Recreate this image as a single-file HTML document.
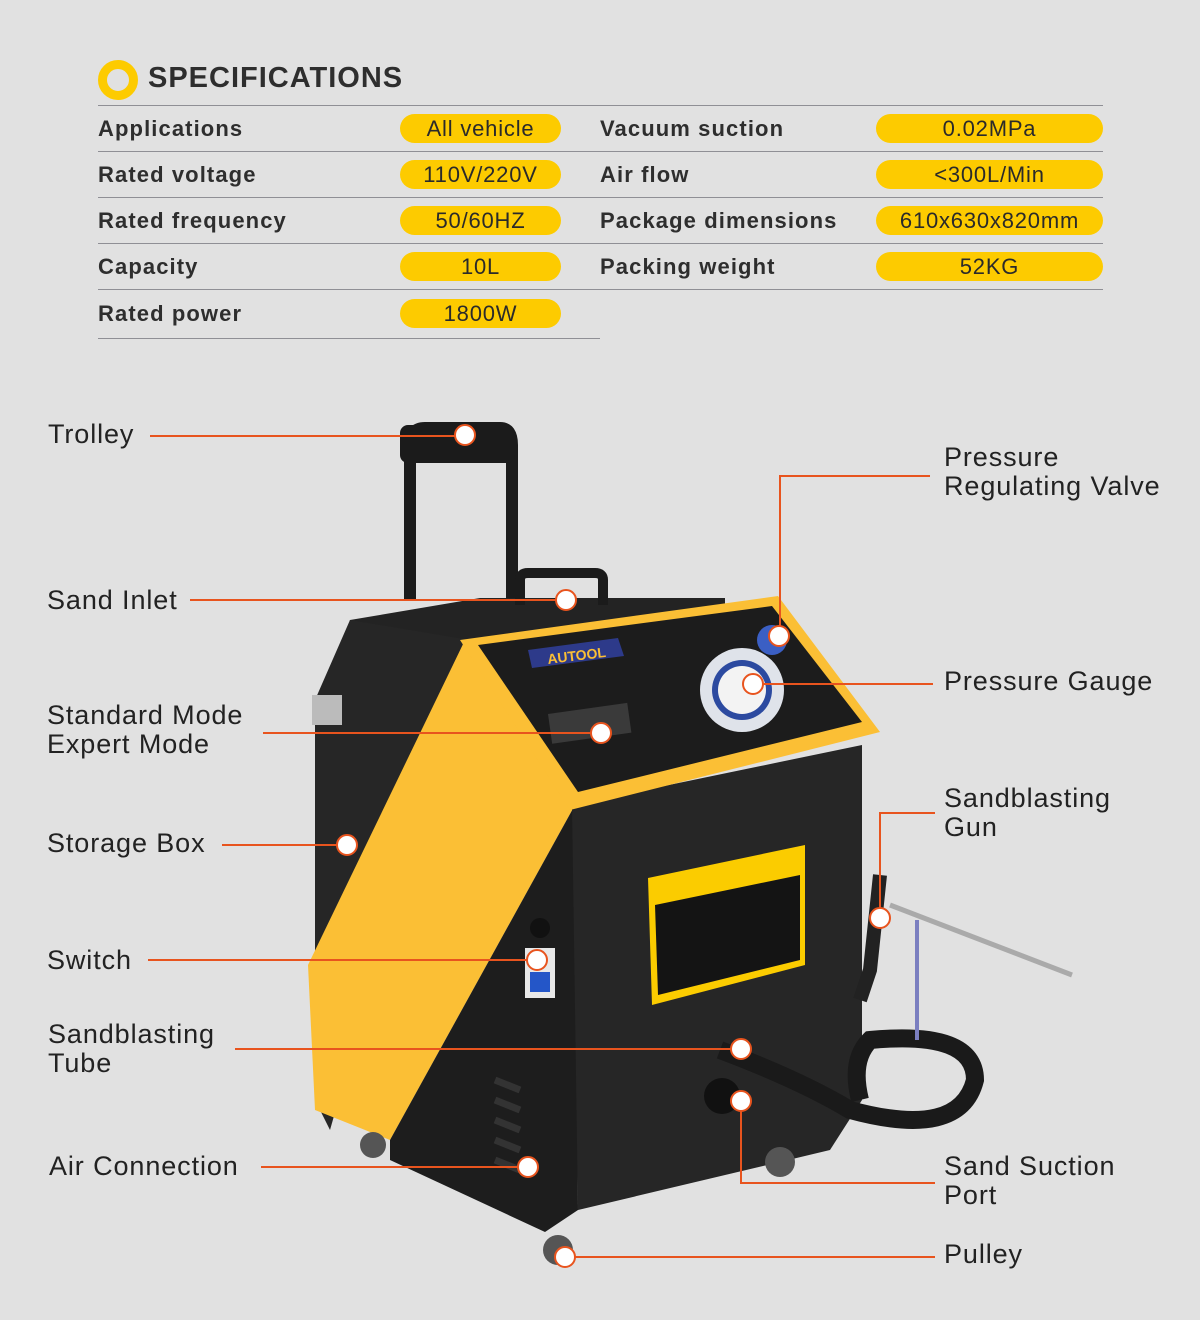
<!DOCTYPE html>
<html><head><meta charset="utf-8"><style>
*{margin:0;padding:0;box-sizing:border-box}
body{width:1200px;height:1320px;background:#e1e1e1;position:relative;overflow:hidden;font-family:"Liberation Sans",sans-serif;color:#2a2a2a}
.a{position:absolute}
.h{left:148px;top:62px;font-size:29px;font-weight:bold;letter-spacing:1px;color:#2e2e2e}
.ln{position:absolute;height:1px;background:#8f8f95}
.lb{position:absolute;font-size:22px;font-weight:bold;color:#2e2e2e;line-height:28px;letter-spacing:1.1px}
.pl{position:absolute;height:29px;background:#fdcb00;border-radius:15px;font-size:22px;text-align:center;line-height:29px;color:#2a2a2a;letter-spacing:0.8px}
.t{position:absolute;font-size:27px;line-height:29px;color:#222;letter-spacing:0.9px}
</style></head><body>
<div class="a" style="left:98px;top:60px;width:40px;height:40px;border-radius:50%;border:9px solid #fdcb00"></div>
<div class="a h">SPECIFICATIONS</div>
<div class="ln" style="left:98px;top:105px;width:1005px"></div>
<div class="ln" style="left:98px;top:151px;width:1005px"></div>
<div class="ln" style="left:98px;top:197px;width:1005px"></div>
<div class="ln" style="left:98px;top:243px;width:1005px"></div>
<div class="ln" style="left:98px;top:289px;width:1005px"></div>
<div class="ln" style="left:98px;top:338px;width:502px"></div>

<div class="lb" style="left:98px;top:115px">Applications</div>
<div class="lb" style="left:98px;top:161px">Rated voltage</div>
<div class="lb" style="left:98px;top:207px">Rated frequency</div>
<div class="lb" style="left:98px;top:253px">Capacity</div>
<div class="lb" style="left:98px;top:300px">Rated power</div>
<div class="pl" style="left:400px;top:114px;width:161px">All vehicle</div>
<div class="pl" style="left:400px;top:160px;width:161px">110V/220V</div>
<div class="pl" style="left:400px;top:206px;width:161px">50/60HZ</div>
<div class="pl" style="left:400px;top:252px;width:161px">10L</div>
<div class="pl" style="left:400px;top:299px;width:161px">1800W</div>
<div class="lb" style="left:600px;top:115px">Vacuum suction</div>
<div class="lb" style="left:600px;top:161px">Air flow</div>
<div class="lb" style="left:600px;top:207px">Package dimensions</div>
<div class="lb" style="left:600px;top:253px">Packing weight</div>
<div class="pl" style="left:876px;top:114px;width:227px">0.02MPa</div>
<div class="pl" style="left:876px;top:160px;width:227px">&lt;300L/Min</div>
<div class="pl" style="left:876px;top:206px;width:227px">610x630x820mm</div>
<div class="pl" style="left:876px;top:252px;width:227px">52KG</div>

<svg class="a" style="left:0;top:0" width="1200" height="1320">
<path d="M410 600 V445 Q410 428 425 428 H500 Q512 428 512 445 V600" fill="none" stroke="#1b1b1b" stroke-width="12"/>
<rect x="400" y="425" width="115" height="38" rx="8" fill="#1b1b1b"/>
<polygon points="350,620 480,598 725,598 725,615 470,650 330,700" fill="#232323"/>
<path d="M520 605 V580 Q520 573 528 573 H595 Q603 573 603 580 V605" fill="none" stroke="#1b1b1b" stroke-width="10"/>
<polygon points="315,700 350,620 470,640 330,1130 315,1100" fill="#262626"/>
<rect x="312" y="695" width="30" height="30" fill="#bbb"/>
<polygon points="465,640 575,805 390,1140 315,1110 308,965" fill="#fbbf35"/>
<polygon points="575,805 578,1210 545,1232 390,1160 390,1140" fill="#1d1d1d"/>
<g stroke="#333" stroke-width="7" fill="none"><path d="M495 1080 l25 10"/><path d="M495 1100 l25 10"/><path d="M495 1120 l25 10"/><path d="M495 1140 l25 10"/><path d="M495 1160 l25 10"/></g>
<polygon points="572,805 862,745 862,1100 830,1150 578,1210" fill="#262626"/>
<polygon points="460,640 778,596 880,732 570,810" fill="#fbbf35"/>
<polygon points="478,645 772,606 862,722 578,792" fill="#1c1c1c"/>
<polygon points="528,650 618,638 624,656 532,668" fill="#2d3a8a"/>
<text x="548" y="664" font-size="14" font-weight="bold" fill="#fbbf35" transform="rotate(-7 548 664)">AUTOOL</text>
<circle cx="742" cy="690" r="42" fill="#dfe3ea"/>
<circle cx="742" cy="690" r="30" fill="#2c4aa0"/><circle cx="742" cy="690" r="24" fill="#f3f3f3"/>
<circle cx="772" cy="640" r="15" fill="#3b5fc4"/>
<rect x="548" y="714" width="80" height="30" fill="#3a3a3a" transform="rotate(-8 548 714)"/>
<polygon points="648,878 805,845 805,965 652,1005" fill="#fbcc00"/>
<polygon points="655,905 800,875 800,960 658,995" fill="#141414"/>
<circle cx="373" cy="1145" r="13" fill="#555"/><circle cx="780" cy="1162" r="15" fill="#555"/><circle cx="558" cy="1250" r="15" fill="#555"/>
<circle cx="722" cy="1096" r="18" fill="#111"/><circle cx="540" cy="928" r="10" fill="#111"/>
<rect x="525" y="948" width="30" height="50" fill="#e8e8e8"/><rect x="530" y="972" width="20" height="20" fill="#2456c8"/>
<path d="M720 1050 Q800 1080 850 1110 Q960 1140 975 1080 Q975 1030 870 1040 Q850 1060 860 1100" fill="none" stroke="#1a1a1a" stroke-width="18"/>
<path d="M880 875 L870 970 L860 1000" stroke="#222" stroke-width="14" fill="none"/>
<path d="M890 905 L1072 975" stroke="#aaa" stroke-width="5"/>
<path d="M917 920 V1040" stroke="#7b7fc0" stroke-width="4"/>
<g stroke="#e8541e" stroke-width="2" fill="none">
<path d="M150 436 H465"/><path d="M190 600 H566"/><path d="M930 476 H780 V636"/>
<path d="M263 733 H601"/><path d="M753 684 H933"/><path d="M222 845 H347"/>
<path d="M935 813 H880 V918"/><path d="M148 960 H537"/><path d="M235 1049 H741"/>
<path d="M261 1167 H528"/><path d="M741 1101 V1183 H935"/><path d="M565 1257 H935"/>
</g>
<g fill="#fff" stroke="#e8541e" stroke-width="2">
<circle cx="465" cy="435" r="10"/><circle cx="566" cy="600" r="10"/><circle cx="779" cy="636" r="10"/>
<circle cx="601" cy="733" r="10"/><circle cx="753" cy="684" r="10"/><circle cx="347" cy="845" r="10"/>
<circle cx="880" cy="918" r="10"/><circle cx="537" cy="960" r="10"/><circle cx="741" cy="1049" r="10"/>
<circle cx="528" cy="1167" r="10"/><circle cx="741" cy="1101" r="10"/><circle cx="565" cy="1257" r="10"/>
</g>
</svg>

<div class="t" style="left:48px;top:420px">Trolley</div>
<div class="t" style="left:47px;top:586px">Sand Inlet</div>
<div class="t" style="left:47px;top:701px">Standard Mode<br>Expert Mode</div>
<div class="t" style="left:47px;top:829px">Storage Box</div>
<div class="t" style="left:47px;top:946px">Switch</div>
<div class="t" style="left:48px;top:1020px">Sandblasting<br>Tube</div>
<div class="t" style="left:49px;top:1152px">Air Connection</div>
<div class="t" style="left:944px;top:443px">Pressure<br>Regulating Valve</div>
<div class="t" style="left:944px;top:667px">Pressure Gauge</div>
<div class="t" style="left:944px;top:784px">Sandblasting<br>Gun</div>
<div class="t" style="left:944px;top:1152px">Sand Suction<br>Port</div>
<div class="t" style="left:944px;top:1240px">Pulley</div>
</body></html>
